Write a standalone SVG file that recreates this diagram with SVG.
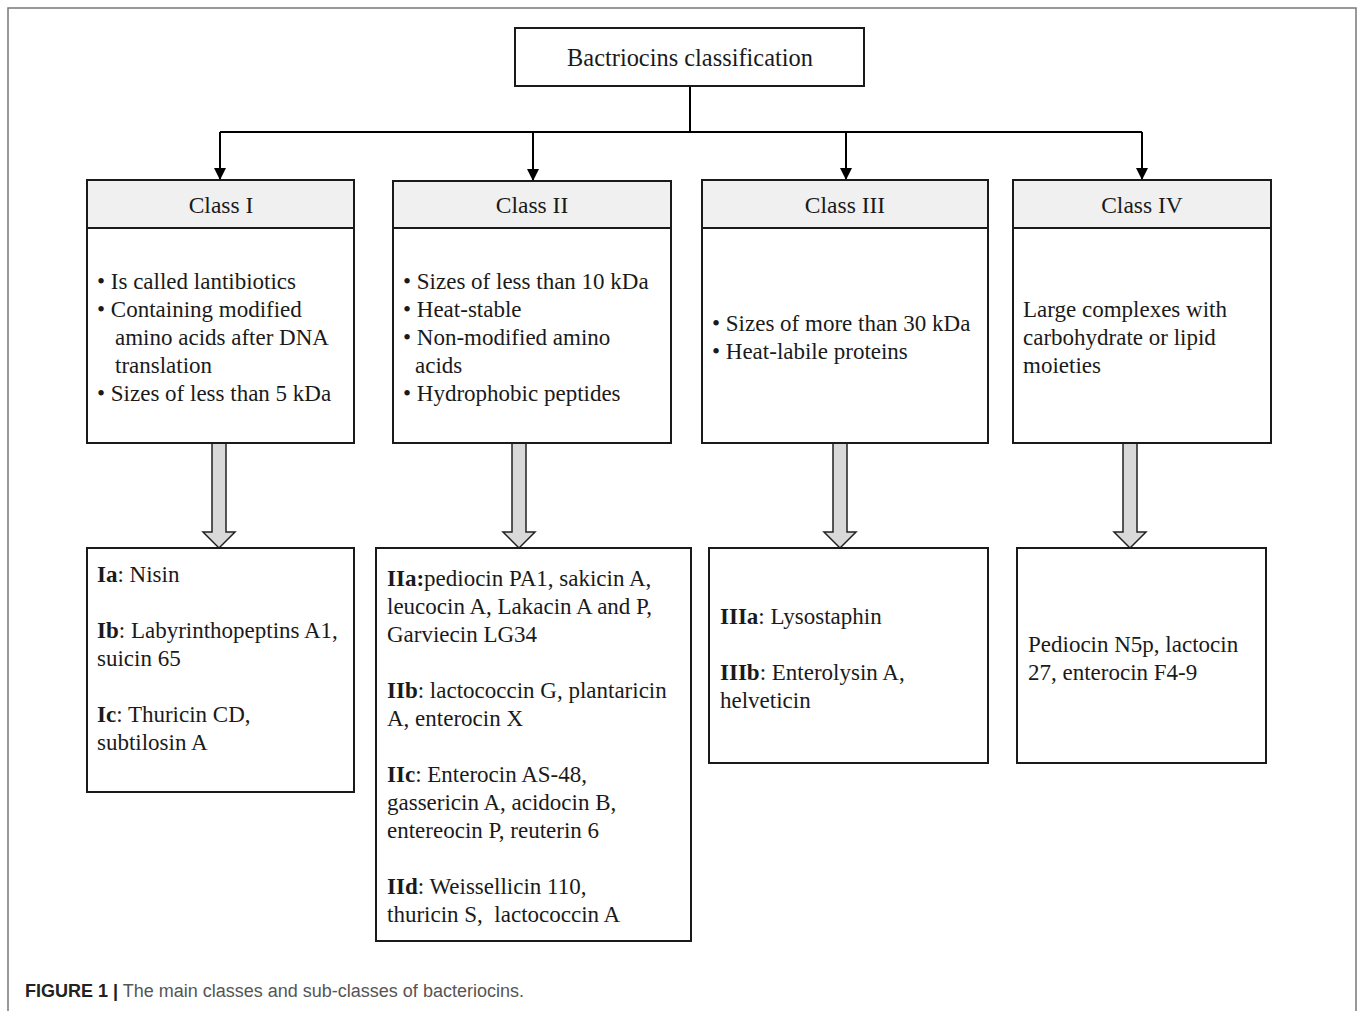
<svg xmlns="http://www.w3.org/2000/svg" width="1358" height="1011" viewBox="0 0 1358 1011">
<defs>
<marker id="ah" markerWidth="12" markerHeight="12" refX="12" refY="6" orient="auto" markerUnits="userSpaceOnUse" viewBox="0 0 12 12">
<path d="M0,0 L12,6 L0,12 z" fill="#000"/>
</marker>
</defs>
<style>
.box{fill:#fff;stroke:#1a1a1a;stroke-width:2}
.hdr{fill:#f0f0f0;stroke:#1a1a1a;stroke-width:2}
.t{font-family:"Liberation Serif","Times New Roman",serif;font-size:23px;fill:#1a1a1a}
.h{font-family:"Liberation Serif","Times New Roman",serif;font-size:23.5px;fill:#1a1a1a;text-anchor:middle}
.ttl{font-family:"Liberation Serif","Times New Roman",serif;font-size:24.4px;fill:#1a1a1a;text-anchor:middle}
.con{fill:none;stroke:#000;stroke-width:2}
.blk{fill:#d9d9d9;stroke:#222;stroke-width:1.5}
.cap{font-family:"Liberation Sans",Arial,sans-serif;font-size:18px}
</style>
<rect x="8" y="8" width="1348" height="1010" fill="#fff" stroke="#777" stroke-width="1.5"/>

<g id="connectors">
<path class="con" d="M690,86 V132"/>
<path class="con" d="M220,132 H1142"/>
<path class="con" d="M220,132 V180" marker-end="url(#ah)"/>
<path class="con" d="M533,132 V181" marker-end="url(#ah)"/>
<path class="con" d="M846,132 V180" marker-end="url(#ah)"/>
<path class="con" d="M1142,132 V180" marker-end="url(#ah)"/>
<path class="blk" d="M212,443 H226 V532 H235 L219,548 L203,532 H212 Z"/>
<path class="blk" d="M512,443 H526 V532 H535 L519,548 L503,532 H512 Z"/>
<path class="blk" d="M833,443 H847 V532 H856 L840,548 L824,532 H833 Z"/>
<path class="blk" d="M1123,443 H1137 V532 H1146 L1130,548 L1114,532 H1123 Z"/>
</g>

<g id="root">
<rect class="box" x="515" y="28" width="349" height="58"/>
<text class="ttl" x="690" y="66">Bactriocins classification</text>
</g>

<g id="class1">
<rect class="box" x="87" y="180" width="267" height="263"/>
<rect class="hdr" x="87" y="180" width="267" height="48"/>
<text class="h" x="221" y="213">Class I</text>
<text class="t" x="97" y="289">• Is called lantibiotics</text>
<text class="t" x="97" y="317">• Containing modified</text>
<text class="t" x="115" y="345">amino acids after DNA</text>
<text class="t" x="115" y="373">translation</text>
<text class="t" x="97" y="401">• Sizes of less than 5 kDa</text>
</g>

<g id="class2">
<rect class="box" x="393" y="181" width="278" height="262"/>
<rect class="hdr" x="393" y="181" width="278" height="47"/>
<text class="h" x="532" y="213">Class II</text>
<text class="t" x="403" y="289">• Sizes of less than 10 kDa</text>
<text class="t" x="403" y="317">• Heat-stable</text>
<text class="t" x="403" y="345">• Non-modified amino</text>
<text class="t" x="415" y="373">acids</text>
<text class="t" x="403" y="401">• Hydrophobic peptides</text>
</g>

<g id="class3">
<rect class="box" x="702" y="180" width="286" height="263"/>
<rect class="hdr" x="702" y="180" width="286" height="48"/>
<text class="h" x="845" y="213">Class III</text>
<text class="t" x="712" y="331">• Sizes of more than 30 kDa</text>
<text class="t" x="712" y="359">• Heat-labile proteins</text>
</g>

<g id="class4">
<rect class="box" x="1013" y="180" width="258" height="263"/>
<rect class="hdr" x="1013" y="180" width="258" height="48"/>
<text class="h" x="1142" y="213">Class IV</text>
<text class="t" x="1023" y="317">Large complexes with</text>
<text class="t" x="1023" y="345">carbohydrate or lipid</text>
<text class="t" x="1023" y="373">moieties</text>
</g>

<g id="sub1">
<rect class="box" x="87" y="548" width="267" height="244"/>
<text class="t" x="97" y="582"><tspan font-weight="bold">Ia</tspan>: Nisin</text>
<text class="t" x="97" y="638"><tspan font-weight="bold">Ib</tspan>: Labyrinthopeptins A1,</text>
<text class="t" x="97" y="666">suicin 65</text>
<text class="t" x="97" y="722"><tspan font-weight="bold">Ic</tspan>: Thuricin CD,</text>
<text class="t" x="97" y="750">subtilosin A</text>
</g>

<g id="sub2">
<rect class="box" x="376" y="548" width="315" height="393"/>
<text class="t" x="387" y="586"><tspan font-weight="bold">IIa:</tspan>pediocin PA1, sakicin A,</text>
<text class="t" x="387" y="614">leucocin A, Lakacin A and P,</text>
<text class="t" x="387" y="642">Garviecin LG34</text>
<text class="t" x="387" y="698"><tspan font-weight="bold">IIb</tspan>: lactococcin G, plantaricin</text>
<text class="t" x="387" y="726">A, enterocin X</text>
<text class="t" x="387" y="782"><tspan font-weight="bold">IIc</tspan>: Enterocin AS-48,</text>
<text class="t" x="387" y="810">gassericin A, acidocin B,</text>
<text class="t" x="387" y="838">entereocin P, reuterin 6</text>
<text class="t" x="387" y="894"><tspan font-weight="bold">IId</tspan>: Weissellicin 110,</text>
<text class="t" x="387" y="922" xml:space="preserve">thuricin S,  lactococcin A</text>
</g>

<g id="sub3">
<rect class="box" x="709" y="548" width="279" height="215"/>
<text class="t" x="720" y="624"><tspan font-weight="bold">IIIa</tspan>: Lysostaphin</text>
<text class="t" x="720" y="680"><tspan font-weight="bold">IIIb</tspan>: Enterolysin A,</text>
<text class="t" x="720" y="708">helveticin</text>
</g>

<g id="sub4">
<rect class="box" x="1017" y="548" width="249" height="215"/>
<text class="t" x="1028" y="652">Pediocin N5p, lactocin</text>
<text class="t" x="1028" y="680">27, enterocin F4-9</text>
</g>

<text class="cap" x="25" y="997"><tspan font-weight="bold" fill="#222">FIGURE 1 |</tspan><tspan fill="#555"> The main classes and sub-classes of bacteriocins.</tspan></text>
</svg>
